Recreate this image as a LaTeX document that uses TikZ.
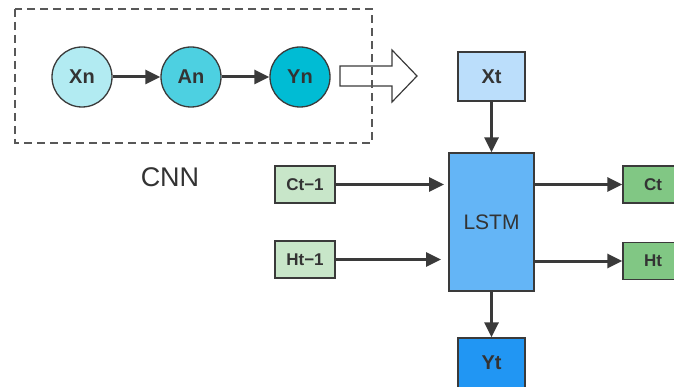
\documentclass[tikz,border=0pt]{standalone}
\usepackage{fontspec}
\setmainfont{Liberation Sans}
\usetikzlibrary{arrows.meta}
\definecolor{edge}{HTML}{3A3A3A}
\definecolor{txt}{HTML}{333333}
\definecolor{cxn}{HTML}{B2EBF2}
\definecolor{can}{HTML}{4DD0E1}
\definecolor{cyn}{HTML}{00BCD4}
\definecolor{cxt}{HTML}{BBDEFB}
\definecolor{clstm}{HTML}{64B5F6}
\definecolor{cyt}{HTML}{2196F3}
\definecolor{cin}{HTML}{C8E6C9}
\definecolor{cout}{HTML}{81C784}
\tikzset{
  circ/.style={circle, draw=edge, line width=1.3pt, minimum size=60pt, inner sep=0pt,
    text=txt, font=\fontsize{20}{22}\selectfont\bfseries},
  box/.style={rectangle, draw=edge, line width=1.3pt, inner sep=0pt, text=txt,
    font=\fontsize{20}{22}\selectfont\bfseries},
  smallbox/.style={box, minimum width=60pt, minimum height=37pt,
    font=\fontsize{17}{19}\selectfont\bfseries},
  arr/.style={draw=edge, line width=3pt, -{Triangle[length=15pt,width=14pt]}},
  dashbox/.style={draw=edge!85, line width=1.2pt, dash pattern=on 8pt off 5pt},
  hollow/.style={draw=edge, line width=1.2pt, line join=miter}
}
\begin{document}
\begin{tikzpicture}[x=1pt,y=-1pt]
\useasboundingbox (0,0) rectangle (674,387);
\clip (0,0) rectangle (674,387);
% hollow arrow (drawn under dashed border)
\draw[hollow] (340,66) -- (392,66) -- (392,50) -- (417,76) -- (392,102) -- (392,86) -- (340,86) -- cycle;
% CNN dashed box
\draw[dashbox] (15,9) rectangle (372,143);
\node[text=txt, font=\fontsize{27}{29}\selectfont] (cnn) at (170,177) {CNN};
% circles
\node[circ, fill=cxn] (xn) at (82,77) {Xn};
\node[circ, fill=can] (an) at (191,77) {An};
\node[circ, fill=cyn] (yn) at (300,77) {Yn};
\draw[arr] (xn) -- (an);
\draw[arr] (an) -- (yn);
% LSTM part
\node[box, fill=cxt, minimum width=67pt, minimum height=49pt] (xt) at (491.5,76.5) {Xt};
\node[box, fill=clstm, minimum width=85pt, minimum height=138pt,
  font=\fontsize{21}{23}\selectfont] (lstm) at (491.5,222) {LSTM};
\node[box, fill=cyt, minimum width=67pt, minimum height=50pt] (yt) at (491.5,363) {Yt};
\node[smallbox, fill=cin] (ct1) at (305,184.5) {Ct−1};
\node[smallbox, fill=cin] (ht1) at (305,259.5) {Ht−1};
\node[smallbox, fill=cout] (ct) at (653,184.5) {Ct};
\node[smallbox, fill=cout] (ht) at (653,261) {Ht};
\coordinate (ct1in) at (444,184.5);
\coordinate (ht1in) at (441,259.5);
\draw[arr] (xt) -- (lstm);
\draw[arr] (lstm) -- (yt);
\draw[arr] (ct1.east) -- (ct1in);
\draw[arr] (ht1.east) -- (ht1in);
\draw[arr] (ct.west -| lstm.east) -- (ct.west);
\draw[arr] (ht.west -| lstm.east) -- (ht.west);
\end{tikzpicture}
\end{document}
